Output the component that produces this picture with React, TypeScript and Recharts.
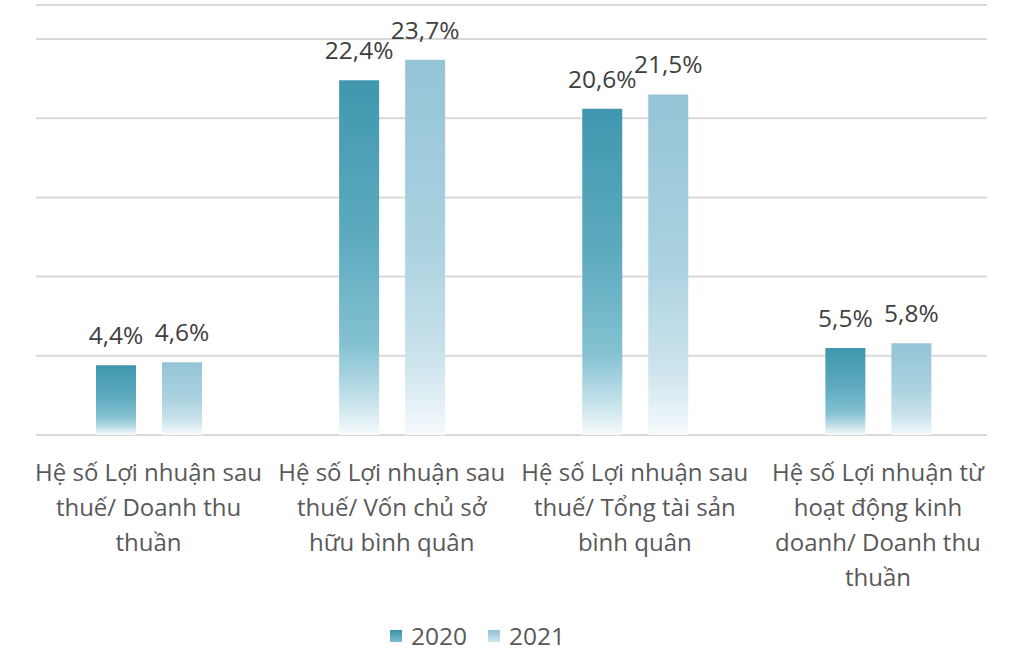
import React from "react";
import {
  Bar,
  BarChart,
  CartesianGrid,
  LabelList,
  XAxis,
  YAxis,
} from "recharts";

// Category labels, already broken into lines
const CATEGORY_LINES: string[][] = [
  ["Hệ số Lợi nhuận sau", "thuế/ Doanh thu", "thuần"],
  ["Hệ số Lợi nhuận sau", "thuế/ Vốn chủ sở", "hữu bình quân"],
  ["Hệ số Lợi nhuận sau", "thuế/ Tổng tài sản", "bình quân"],
  ["Hệ số Lợi nhuận từ", "hoạt động kinh", "doanh/ Doanh thu", "thuần"],
];

const VALUES_2020 = [4.4, 22.4, 20.6, 5.5];
const VALUES_2021 = [4.6, 23.7, 21.5, 5.8];

const SERIES = [
  { key: "y2020", label: "2020" },
  { key: "y2021", label: "2021" },
];

const Y_MAX = 27.15;
const Y_TICKS = [0, 5, 10, 15, 20, 25, Y_MAX];

const FONT = "'Open Sans', sans-serif";

const data = CATEGORY_LINES.map((lines, i) => ({
  name: lines.join(" "),
  y2020: VALUES_2020[i],
  y2021: VALUES_2021[i],
}));

const fmt = (v: number) => `${v.toFixed(1).replace(".", ",")}%`;

function CategoryTick(props: any) {
  const { x, y, index } = props;
  const lines = CATEGORY_LINES[index] ?? [];
  return (
    <text
      x={x}
      y={y}
      textAnchor="middle"
      fill="#595959"
      fontSize={24}
      fontFamily={FONT}
    >
      {lines.map((line, i) => (
        <tspan key={i} x={x} dy={i === 0 ? 46 : 35}>
          {line}
        </tspan>
      ))}
    </text>
  );
}

function ChartLegend() {
  return (
    <div
      style={{
        position: "absolute",
        left: 390,
        top: 620,
        display: "flex",
        alignItems: "center",
        gap: 21,
      }}
    >
      {SERIES.map((s) => (
        <div key={s.key} style={{ display: "flex", alignItems: "center" }}>
          <svg width={12} height={12} style={{ marginRight: 9 }}>
            <rect width={12} height={12} fill={`url(#legend-${s.key})`} />
          </svg>
          <span style={{ fontFamily: FONT, fontSize: 24.5, color: "#595959", lineHeight: "32px" }}>
            {s.label}
          </span>
        </div>
      ))}
    </div>
  );
}

export default function App() {
  return (
    <div
      style={{
        position: "absolute",
        left: 0,
        top: 0,
        width: 1017,
        height: 652,
        background: "#ffffff",
      }}
    >
      <svg width={0} height={0} style={{ position: "absolute" }}>
        <defs>
          <linearGradient id="legend-y2020" x1="0" y1="0" x2="0" y2="1">
            <stop offset="0" stopColor="#3a93ab" />
            <stop offset="1" stopColor="#7fbccd" />
          </linearGradient>
          <linearGradient id="legend-y2021" x1="0" y1="0" x2="0" y2="1">
            <stop offset="0" stopColor="#8fc1d4" />
            <stop offset="1" stopColor="#cfe5ee" />
          </linearGradient>
        </defs>
      </svg>
      <BarChart
        width={1017}
        height={652}
        data={data}
        margin={{ top: 5, right: 30, left: 36, bottom: 67 }}
        barGap={26}
        barSize={40}
      >
        <defs>
          <linearGradient id="grad-y2020" x1="0" y1="0" x2="0" y2="1">
            <stop offset="0" stopColor="#4097ae" />
            <stop offset="0.45" stopColor="#5eabbf" />
            <stop offset="0.75" stopColor="#84c2d2" />
            <stop offset="0.9" stopColor="#c4e1ea" />
            <stop offset="1" stopColor="#f7fbfc" />
          </linearGradient>
          <linearGradient id="grad-y2021" x1="0" y1="0" x2="0" y2="1">
            <stop offset="0" stopColor="#94c4d6" />
            <stop offset="0.5" stopColor="#abd2e0" />
            <stop offset="0.8" stopColor="#cbe3ec" />
            <stop offset="1" stopColor="#f6fafc" />
          </linearGradient>
        </defs>
        <CartesianGrid vertical={false} stroke="#d9d9d9" strokeWidth={2} />
        <XAxis
          dataKey="name"
          axisLine={false}
          tickLine={false}
          tickSize={0}
          tickMargin={0}
          height={150}
          interval={0}
          padding={{ left: -9, right: -12.5 }}
          tick={<CategoryTick />}
        />
        <YAxis hide domain={[0, Y_MAX]} ticks={Y_TICKS} />
        {SERIES.map((s) => (
          <Bar
            key={s.key}
            dataKey={s.key}
            name={s.label}
            fill={`url(#grad-${s.key})`}
            isAnimationActive={false}
          >
            <LabelList
              dataKey={s.key}
              position="top"
              offset={21}
              formatter={(v: any) => fmt(Number(v))}
              style={{ fontFamily: FONT, fontSize: 24.5, fill: "#404040" }}
            />
          </Bar>
        ))}
      </BarChart>
      <ChartLegend />
    </div>
  );
}
